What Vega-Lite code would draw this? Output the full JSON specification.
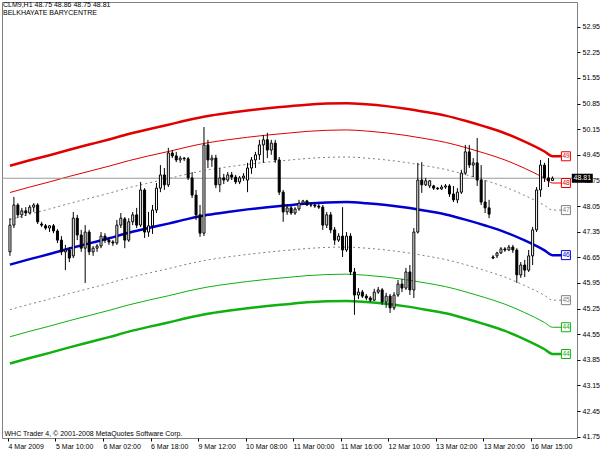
{
  "$schema": "https://vega.github.io/schema/vega-lite/v6.json",
  "width": 575,
  "height": 436,
  "autosize": {"type": "none"},
  "padding": {"left": 2, "top": 2, "right": 28, "bottom": 16},
  "background": "white",
  "config": {
    "view": {"stroke": "#808080", "strokeWidth": 1},
    "font": "Liberation Sans",
    "axis": {"grid": false, "domain": false, "labelFont": "Liberation Sans", "labelFontSize": 7, "labelColor": "black",
      "tickColor": "black", "tickSize": 3, "labelOverlap": false, "labelFlush": false, "labelBound": false,
      "titleFont": "Liberation Sans", "titleFontSize": 7, "titleFontWeight": "normal", "titleColor": "black"}
  },
  "title": {
    "text": ["CLM9,H1  48.75 48.86 48.75 48.81", "BELKHAYATE BARYCENTRE"],
    "anchor": "start", "frame": "group", "orient": "top", "baseline": "top",
    "offset": -14, "dx": 1, "fontSize": 7, "font": "Liberation Sans",
    "fontWeight": "normal", "color": "black", "lineHeight": 8
  },
  "datasets": {
    "bars": [
      {"i":0,"o":46.80,"h":47.72,"l":46.69,"c":47.53},
      {"i":1,"o":47.53,"h":48.30,"l":47.45,"c":48.08},
      {"i":2,"o":48.08,"h":48.13,"l":47.72,"c":47.81},
      {"i":3,"o":47.81,"h":48.00,"l":47.72,"c":47.92},
      {"i":4,"o":47.92,"h":48.02,"l":47.78,"c":47.86},
      {"i":5,"o":47.86,"h":48.08,"l":47.83,"c":48.02},
      {"i":6,"o":48.02,"h":48.13,"l":47.89,"c":48.08},
      {"i":7,"o":48.08,"h":48.13,"l":47.56,"c":47.62},
      {"i":8,"o":47.56,"h":47.62,"l":47.48,"c":47.53},
      {"i":9,"o":47.51,"h":47.56,"l":47.40,"c":47.45},
      {"i":10,"o":47.45,"h":47.53,"l":47.34,"c":47.51},
      {"i":11,"o":47.51,"h":47.56,"l":47.31,"c":47.37},
      {"i":12,"o":47.37,"h":47.42,"l":47.04,"c":47.12},
      {"i":13,"o":47.12,"h":47.23,"l":46.71,"c":46.80},
      {"i":14,"o":46.80,"h":46.99,"l":46.30,"c":46.85},
      {"i":15,"o":46.85,"h":46.93,"l":46.52,"c":46.63},
      {"i":16,"o":46.69,"h":47.89,"l":46.63,"c":47.72},
      {"i":17,"o":47.72,"h":47.81,"l":47.12,"c":47.26},
      {"i":18,"o":47.26,"h":47.40,"l":46.80,"c":46.90},
      {"i":19,"o":46.90,"h":47.53,"l":45.95,"c":47.34},
      {"i":20,"o":47.34,"h":47.40,"l":46.71,"c":46.80},
      {"i":21,"o":46.80,"h":46.96,"l":46.69,"c":46.90},
      {"i":22,"o":46.90,"h":47.01,"l":46.80,"c":46.96},
      {"i":23,"o":46.96,"h":47.34,"l":46.90,"c":47.23},
      {"i":24,"o":47.23,"h":47.31,"l":47.04,"c":47.12},
      {"i":25,"o":47.12,"h":47.18,"l":46.99,"c":47.07},
      {"i":26,"o":47.07,"h":47.12,"l":46.96,"c":47.04},
      {"i":27,"o":47.04,"h":47.67,"l":46.99,"c":47.53},
      {"i":28,"o":47.53,"h":47.86,"l":47.45,"c":47.72},
      {"i":29,"o":47.70,"h":47.75,"l":46.90,"c":47.12},
      {"i":30,"o":47.12,"h":47.72,"l":47.07,"c":47.62},
      {"i":31,"o":47.62,"h":47.89,"l":47.53,"c":47.81},
      {"i":32,"o":47.81,"h":48.00,"l":47.45,"c":47.53},
      {"i":33,"o":47.53,"h":48.71,"l":47.48,"c":48.49},
      {"i":34,"o":48.49,"h":48.54,"l":47.18,"c":47.34},
      {"i":35,"o":47.34,"h":47.89,"l":47.21,"c":47.51},
      {"i":36,"o":47.51,"h":48.08,"l":47.29,"c":47.94},
      {"i":37,"o":47.94,"h":48.68,"l":47.86,"c":48.54},
      {"i":38,"o":48.54,"h":49.17,"l":48.43,"c":48.90},
      {"i":39,"o":48.90,"h":49.09,"l":48.49,"c":48.63},
      {"i":40,"o":48.63,"h":49.64,"l":48.57,"c":49.50},
      {"i":41,"o":49.50,"h":49.58,"l":49.36,"c":49.42},
      {"i":42,"o":49.42,"h":49.53,"l":49.25,"c":49.31},
      {"i":43,"o":49.31,"h":49.42,"l":49.23,"c":49.36},
      {"i":44,"o":49.36,"h":49.39,"l":49.28,"c":49.34},
      {"i":45,"o":49.34,"h":49.39,"l":48.76,"c":48.82},
      {"i":46,"o":48.82,"h":48.98,"l":48.27,"c":48.35},
      {"i":47,"o":48.35,"h":48.49,"l":47.67,"c":47.81},
      {"i":48,"o":47.81,"h":48.08,"l":47.21,"c":47.31},
      {"i":49,"o":47.31,"h":50.21,"l":47.23,"c":49.72},
      {"i":50,"o":49.72,"h":49.86,"l":49.09,"c":49.31},
      {"i":51,"o":49.31,"h":49.45,"l":49.12,"c":49.36},
      {"i":52,"o":49.36,"h":49.45,"l":48.54,"c":48.63},
      {"i":53,"o":48.63,"h":49.09,"l":48.43,"c":48.82},
      {"i":54,"o":48.82,"h":48.93,"l":48.65,"c":48.76},
      {"i":55,"o":48.76,"h":48.98,"l":48.71,"c":48.90},
      {"i":56,"o":48.90,"h":48.98,"l":48.76,"c":48.84},
      {"i":57,"o":48.84,"h":48.90,"l":48.65,"c":48.71},
      {"i":58,"o":48.71,"h":48.87,"l":48.65,"c":48.82},
      {"i":59,"o":48.82,"h":48.95,"l":48.74,"c":48.87},
      {"i":60,"o":48.76,"h":49.23,"l":48.43,"c":49.09},
      {"i":61,"o":49.09,"h":49.39,"l":48.93,"c":49.31},
      {"i":62,"o":49.31,"h":49.53,"l":49.09,"c":49.45},
      {"i":63,"o":49.45,"h":49.86,"l":49.31,"c":49.72},
      {"i":64,"o":49.72,"h":49.99,"l":49.23,"c":49.86},
      {"i":65,"o":49.86,"h":50.05,"l":49.36,"c":49.58},
      {"i":66,"o":49.58,"h":49.86,"l":49.45,"c":49.77},
      {"i":67,"o":49.77,"h":49.86,"l":49.23,"c":49.31},
      {"i":68,"o":49.31,"h":49.39,"l":48.35,"c":48.43},
      {"i":69,"o":48.43,"h":48.49,"l":47.62,"c":47.89},
      {"i":70,"o":47.89,"h":48.08,"l":47.81,"c":48.00},
      {"i":71,"o":48.00,"h":48.05,"l":47.81,"c":47.86},
      {"i":72,"o":47.86,"h":48.02,"l":47.81,"c":47.97},
      {"i":73,"o":47.97,"h":48.22,"l":47.92,"c":48.13},
      {"i":74,"o":48.13,"h":48.22,"l":48.11,"c":48.19},
      {"i":75,"o":48.19,"h":48.22,"l":48.05,"c":48.08},
      {"i":76,"o":48.08,"h":48.13,"l":48.02,"c":48.08},
      {"i":77,"o":48.08,"h":48.13,"l":48.00,"c":48.05},
      {"i":78,"o":48.05,"h":48.11,"l":47.97,"c":48.02},
      {"i":79,"o":48.02,"h":48.08,"l":47.40,"c":47.53},
      {"i":80,"o":47.53,"h":47.89,"l":47.45,"c":47.81},
      {"i":81,"o":47.81,"h":47.89,"l":47.31,"c":47.40},
      {"i":82,"o":47.40,"h":47.48,"l":46.99,"c":47.12},
      {"i":83,"o":47.12,"h":47.31,"l":47.07,"c":47.23},
      {"i":84,"o":47.23,"h":48.02,"l":46.66,"c":46.85},
      {"i":85,"o":46.85,"h":47.34,"l":46.80,"c":47.23},
      {"i":86,"o":47.23,"h":47.31,"l":46.17,"c":46.25},
      {"i":87,"o":46.25,"h":46.36,"l":45.08,"c":45.62},
      {"i":88,"o":45.62,"h":45.81,"l":45.51,"c":45.70},
      {"i":89,"o":45.70,"h":45.76,"l":45.54,"c":45.59},
      {"i":90,"o":45.59,"h":45.65,"l":45.48,"c":45.54},
      {"i":91,"o":45.54,"h":45.59,"l":45.43,"c":45.48},
      {"i":92,"o":45.48,"h":45.79,"l":45.46,"c":45.70},
      {"i":93,"o":45.70,"h":45.84,"l":45.65,"c":45.76},
      {"i":94,"o":45.76,"h":45.81,"l":45.35,"c":45.43},
      {"i":95,"o":45.43,"h":45.68,"l":45.27,"c":45.59},
      {"i":96,"o":45.59,"h":45.65,"l":45.13,"c":45.27},
      {"i":97,"o":45.27,"h":45.70,"l":45.21,"c":45.62},
      {"i":98,"o":45.62,"h":46.03,"l":45.57,"c":45.92},
      {"i":99,"o":45.92,"h":46.06,"l":45.70,"c":45.81},
      {"i":100,"o":45.81,"h":46.36,"l":45.76,"c":46.25},
      {"i":101,"o":46.25,"h":46.44,"l":45.62,"c":45.76},
      {"i":102,"o":45.76,"h":47.45,"l":45.54,"c":47.34},
      {"i":103,"o":47.34,"h":49.23,"l":47.30,"c":48.76},
      {"i":104,"o":48.76,"h":49.25,"l":48.41,"c":48.63},
      {"i":105,"o":48.63,"h":48.82,"l":48.60,"c":48.74},
      {"i":106,"o":48.60,"h":48.76,"l":48.54,"c":48.74},
      {"i":107,"o":48.60,"h":48.63,"l":48.49,"c":48.54},
      {"i":108,"o":48.54,"h":48.57,"l":48.49,"c":48.52},
      {"i":109,"o":48.52,"h":48.63,"l":48.49,"c":48.57},
      {"i":110,"o":48.57,"h":48.65,"l":48.52,"c":48.60},
      {"i":111,"o":48.60,"h":48.65,"l":48.30,"c":48.38},
      {"i":112,"o":48.38,"h":48.60,"l":48.16,"c":48.22},
      {"i":113,"o":48.22,"h":48.54,"l":48.13,"c":48.43},
      {"i":114,"o":48.43,"h":49.04,"l":48.38,"c":48.95},
      {"i":115,"o":48.95,"h":49.72,"l":48.90,"c":49.53},
      {"i":116,"o":49.53,"h":49.72,"l":49.09,"c":49.17},
      {"i":117,"o":49.17,"h":49.36,"l":48.84,"c":49.23},
      {"i":118,"o":49.23,"h":49.91,"l":48.60,"c":48.76},
      {"i":119,"o":48.76,"h":49.17,"l":48.08,"c":48.16},
      {"i":120,"o":48.16,"h":48.76,"l":47.86,"c":48.00},
      {"i":121,"o":48.00,"h":48.22,"l":47.72,"c":47.83},
      {"i":122,"o":46.66,"h":46.71,"l":46.60,"c":46.63},
      {"i":123,"o":46.69,"h":46.80,"l":46.63,"c":46.77},
      {"i":124,"o":46.77,"h":46.93,"l":46.74,"c":46.88},
      {"i":125,"o":46.88,"h":46.93,"l":46.80,"c":46.85},
      {"i":126,"o":46.85,"h":46.99,"l":46.82,"c":46.93},
      {"i":127,"o":46.93,"h":46.99,"l":46.77,"c":46.85},
      {"i":128,"o":46.85,"h":46.90,"l":45.95,"c":46.17},
      {"i":129,"o":46.17,"h":46.52,"l":46.09,"c":46.44},
      {"i":130,"o":46.44,"h":46.58,"l":46.11,"c":46.30},
      {"i":131,"o":46.30,"h":46.85,"l":46.25,"c":46.69},
      {"i":132,"o":46.69,"h":47.48,"l":46.44,"c":47.40},
      {"i":133,"o":47.40,"h":48.57,"l":47.34,"c":48.49},
      {"i":134,"o":48.49,"h":49.31,"l":48.30,"c":49.17},
      {"i":135,"o":49.17,"h":49.23,"l":48.71,"c":48.82},
      {"i":136,"o":48.82,"h":49.36,"l":48.57,"c":48.74},
      {"i":137,"o":48.75,"h":48.86,"l":48.75,"c":48.81}
    ],
    "bands": [
      {"i":0,"c":46.45,"u1":47.68,"u2":48.42,"u3":49.15,"d1":45.22,"d2":44.48,"d3":43.75},
      {"i":5,"c":46.60,"u1":47.83,"u2":48.57,"u3":49.30,"d1":45.37,"d2":44.63,"d3":43.90},
      {"i":10,"c":46.74,"u1":47.97,"u2":48.71,"u3":49.44,"d1":45.51,"d2":44.77,"d3":44.04},
      {"i":15,"c":46.89,"u1":48.12,"u2":48.86,"u3":49.59,"d1":45.66,"d2":44.92,"d3":44.19},
      {"i":20,"c":47.03,"u1":48.26,"u2":49.00,"u3":49.73,"d1":45.80,"d2":45.06,"d3":44.33},
      {"i":25,"c":47.17,"u1":48.40,"u2":49.14,"u3":49.87,"d1":45.94,"d2":45.20,"d3":44.47},
      {"i":30,"c":47.32,"u1":48.55,"u2":49.29,"u3":50.02,"d1":46.09,"d2":45.35,"d3":44.62},
      {"i":35,"c":47.45,"u1":48.68,"u2":49.42,"u3":50.15,"d1":46.22,"d2":45.48,"d3":44.75},
      {"i":40,"c":47.57,"u1":48.80,"u2":49.54,"u3":50.27,"d1":46.34,"d2":45.60,"d3":44.87},
      {"i":45,"c":47.70,"u1":48.93,"u2":49.67,"u3":50.40,"d1":46.47,"d2":45.73,"d3":45.00},
      {"i":50,"c":47.81,"u1":49.04,"u2":49.78,"u3":50.51,"d1":46.58,"d2":45.84,"d3":45.11},
      {"i":55,"c":47.89,"u1":49.12,"u2":49.86,"u3":50.59,"d1":46.66,"d2":45.92,"d3":45.19},
      {"i":60,"c":47.96,"u1":49.19,"u2":49.93,"u3":50.66,"d1":46.73,"d2":45.99,"d3":45.26},
      {"i":65,"c":48.02,"u1":49.25,"u2":49.99,"u3":50.72,"d1":46.79,"d2":46.05,"d3":45.32},
      {"i":70,"c":48.07,"u1":49.30,"u2":50.04,"u3":50.77,"d1":46.84,"d2":46.10,"d3":45.37},
      {"i":75,"c":48.12,"u1":49.35,"u2":50.09,"u3":50.82,"d1":46.89,"d2":46.15,"d3":45.42},
      {"i":80,"c":48.15,"u1":49.38,"u2":50.12,"u3":50.85,"d1":46.92,"d2":46.18,"d3":45.45},
      {"i":85,"c":48.16,"u1":49.39,"u2":50.13,"u3":50.86,"d1":46.93,"d2":46.19,"d3":45.46},
      {"i":90,"c":48.13,"u1":49.36,"u2":50.10,"u3":50.83,"d1":46.90,"d2":46.16,"d3":45.43},
      {"i":95,"c":48.08,"u1":49.31,"u2":50.05,"u3":50.78,"d1":46.85,"d2":46.11,"d3":45.38},
      {"i":100,"c":48.01,"u1":49.24,"u2":49.98,"u3":50.71,"d1":46.78,"d2":46.04,"d3":45.31},
      {"i":105,"c":47.92,"u1":49.15,"u2":49.89,"u3":50.62,"d1":46.69,"d2":45.95,"d3":45.22},
      {"i":110,"c":47.82,"u1":49.05,"u2":49.79,"u3":50.52,"d1":46.59,"d2":45.85,"d3":45.12},
      {"i":115,"c":47.68,"u1":48.91,"u2":49.65,"u3":50.38,"d1":46.45,"d2":45.71,"d3":44.98},
      {"i":120,"c":47.52,"u1":48.75,"u2":49.49,"u3":50.22,"d1":46.29,"d2":45.55,"d3":44.82},
      {"i":125,"c":47.34,"u1":48.57,"u2":49.31,"u3":50.04,"d1":46.11,"d2":45.37,"d3":44.64},
      {"i":130,"c":47.11,"u1":48.34,"u2":49.08,"u3":49.81,"d1":45.88,"d2":45.14,"d3":44.41},
      {"i":135,"c":46.84,"u1":48.07,"u2":48.81,"u3":49.54,"d1":45.61,"d2":44.87,"d3":44.14},
      {"i":137,"c":46.71,"u1":47.94,"u2":48.68,"u3":49.41,"d1":45.48,"d2":44.74,"d3":44.01},
      {"i":139.3,"c":46.71,"u1":47.94,"u2":48.68,"u3":49.41,"d1":45.48,"d2":44.74,"d3":44.01}
    ],
    "tags": [
      {"price":49.41,"label":"49.","line":"red"},
      {"price":48.68,"label":"48.","line":"red"},
      {"price":47.94,"label":"47.","line":"gray"},
      {"price":46.71,"label":"46.","line":"blue"},
      {"price":45.48,"label":"45.","line":"gray"},
      {"price":44.74,"label":"44.","line":"green"},
      {"price":44.01,"label":"44.","line":"green"}
    ],
    "last": [{"price":48.81,"label":"48.81"}]
  },
  "layer": [
    {
      "encoding": {
        "x": {"field": "i", "type": "quantitative", "scale": {"domain": [-0.744, 141.94], "nice": false, "zero": false},
          "axis": {"values": [-0.5,11.5,23.5,35.5,47.5,59.5,71.5,83.5,95.5,107.5,119.5,131.5],
            "labelExpr": "['4 Mar 2009','5 Mar 10:00','6 Mar 02:00','6 Mar 18:00','9 Mar 12:00','10 Mar 08:00','11 Mar 00:00','11 Mar 16:00','12 Mar 10:00','13 Mar 02:00','13 Mar 20:00','16 Mar 15:00'][round((datum.value+0.5)/12)]",
            "labelAlign": "left", "labelBaseline": "top", "labelPadding": 1, "labelDx": 1, "labelOverlap": false, "labelFlush": false, "labelBound": false,
            "title": "WHC Trader 4, © 2001-2008 MetaQuotes Software Corp.", "titleX": 2, "titleY": -2, "titleAlign": "left",
            "titleBaseline": "bottom"}},
        "y": {"field": "c", "type": "quantitative", "scale": {"domain": [41.715, 53.624], "nice": false, "zero": false},
          "axis": {"orient": "right", "values": [41.75,42.45,43.15,43.85,44.55,45.25,45.95,46.65,47.35,48.05,48.75,49.45,50.15,50.85,51.55,52.25,52.95],
            "format": ".2f", "labelPadding": 2, "title": null, "labelOverlap": false, "labelSeparation": 0, "labelBound": false, "labelFlush": false}}
      },
      "layer": [
        {"data": {"name": "bands"}, "mark": {"type": "line", "color": "#e00000", "strokeWidth": 2.5, "interpolate": "monotone"},
          "encoding": {"y": {"field": "u3", "type": "quantitative"}}},
        {"data": {"name": "bands"}, "mark": {"type": "line", "color": "#e00000", "strokeWidth": 1, "interpolate": "monotone"},
          "encoding": {"y": {"field": "u2", "type": "quantitative"}}},
        {"data": {"name": "bands"}, "mark": {"type": "line", "color": "#808080", "strokeWidth": 1, "strokeDash": [2, 3], "interpolate": "monotone"},
          "encoding": {"y": {"field": "u1", "type": "quantitative"}}},
        {"data": {"name": "bands"}, "mark": {"type": "line", "color": "#0000d0", "strokeWidth": 2.5, "interpolate": "monotone"},
          "encoding": {}},
        {"data": {"name": "bands"}, "mark": {"type": "line", "color": "#808080", "strokeWidth": 1, "strokeDash": [2, 3], "interpolate": "monotone"},
          "encoding": {"y": {"field": "d1", "type": "quantitative"}}},
        {"data": {"name": "bands"}, "mark": {"type": "line", "color": "#10b010", "strokeWidth": 1, "interpolate": "monotone"},
          "encoding": {"y": {"field": "d2", "type": "quantitative"}}},
        {"data": {"name": "bands"}, "mark": {"type": "line", "color": "#10b010", "strokeWidth": 2.5, "interpolate": "monotone"},
          "encoding": {"y": {"field": "d3", "type": "quantitative"}}},
        {"data": {"name": "last"}, "mark": {"type": "rule", "color": "#9a9a9a", "strokeWidth": 1},
          "encoding": {"x": {"value": 0}, "x2": {"value": 575}, "y": {"field": "price", "type": "quantitative"}}},
        {"data": {"name": "bars"}, "mark": {"type": "rule", "color": "black", "strokeWidth": 1},
          "encoding": {"y": {"field": "l", "type": "quantitative"}, "y2": {"field": "h"}}},
        {"data": {"name": "bars"}, "mark": {"type": "bar", "size": 2, "stroke": "black", "strokeWidth": 1},
          "encoding": {
            "y": {"field": "o", "type": "quantitative"},
            "y2": {"field": "c"},
            "fill": {"condition": {"test": "datum.c >= datum.o", "value": "white"}, "value": "black"}
          }}
      ]
    },
    {
      "data": {"name": "tags"},
      "encoding": {
        "x": {"datum": 140.4, "type": "quantitative", "scale": {"domain": [-0.744, 141.94], "nice": false, "zero": false},
          "axis": {"values": [-0.5,11.5,23.5,35.5,47.5,59.5,71.5,83.5,95.5,107.5,119.5,131.5],
            "labelExpr": "['4 Mar 2009','5 Mar 10:00','6 Mar 02:00','6 Mar 18:00','9 Mar 12:00','10 Mar 08:00','11 Mar 00:00','11 Mar 16:00','12 Mar 10:00','13 Mar 02:00','13 Mar 20:00','16 Mar 15:00'][round((datum.value+0.5)/12)]",
            "labelAlign": "left", "labelBaseline": "top", "labelPadding": 1, "labelDx": 1, "labelOverlap": false, "labelFlush": false, "labelBound": false,
            "title": "WHC Trader 4, © 2001-2008 MetaQuotes Software Corp.", "titleX": 2, "titleY": -2, "titleAlign": "left",
            "titleBaseline": "bottom"}},
        "y": {"field": "price", "type": "quantitative", "scale": {"domain": [41.715, 53.624], "nice": false, "zero": false},
          "axis": {"orient": "right", "values": [41.75,42.45,43.15,43.85,44.55,45.25,45.95,46.65,47.35,48.05,48.75,49.45,50.15,50.85,51.55,52.25,52.95],
            "format": ".2f", "labelPadding": 2, "title": null, "labelOverlap": false, "labelSeparation": 0, "labelBound": false, "labelFlush": false}}
      },
      "layer": [
        {"mark": {"type": "point", "shape": "square", "size": 81, "filled": true, "fill": "white", "strokeWidth": 1, "opacity": 1},
          "encoding": {
            "stroke": {"field": "line", "type": "nominal", "scale": {"domain": ["red", "gray", "blue", "green"], "range": ["#e00000", "#808080", "#0000d0", "#10b010"]}, "legend": null}
          }},
        {"mark": {"type": "text", "fontSize": 6.5, "font": "Liberation Sans", "align": "left", "dx": -3.5, "baseline": "middle"},
          "encoding": {
            "text": {"field": "label"},
            "color": {"field": "line", "type": "nominal", "scale": {"domain": ["red", "gray", "blue", "green"], "range": ["#e00000", "#808080", "#0000d0", "#10b010"]}, "legend": null}
          }}
      ]
    },
    {
      "data": {"name": "last"},
      "encoding": {
        "x": {"datum": 144.54, "type": "quantitative", "scale": {"domain": [-0.744, 141.94], "nice": false, "zero": false},
          "axis": {"values": [-0.5,11.5,23.5,35.5,47.5,59.5,71.5,83.5,95.5,107.5,119.5,131.5],
            "labelExpr": "['4 Mar 2009','5 Mar 10:00','6 Mar 02:00','6 Mar 18:00','9 Mar 12:00','10 Mar 08:00','11 Mar 00:00','11 Mar 16:00','12 Mar 10:00','13 Mar 02:00','13 Mar 20:00','16 Mar 15:00'][round((datum.value+0.5)/12)]",
            "labelAlign": "left", "labelBaseline": "top", "labelPadding": 1, "labelDx": 1, "labelOverlap": false, "labelFlush": false, "labelBound": false,
            "title": "WHC Trader 4, © 2001-2008 MetaQuotes Software Corp.", "titleX": 2, "titleY": -2, "titleAlign": "left",
            "titleBaseline": "bottom"}},
        "y": {"field": "price", "type": "quantitative", "scale": {"domain": [41.715, 53.624], "nice": false, "zero": false},
          "axis": {"orient": "right", "values": [41.75,42.45,43.15,43.85,44.55,45.25,45.95,46.65,47.35,48.05,48.75,49.45,50.15,50.85,51.55,52.25,52.95],
            "format": ".2f", "labelPadding": 2, "title": null, "labelOverlap": false, "labelSeparation": 0, "labelBound": false, "labelFlush": false}}
      },
      "layer": [
        {"mark": {"type": "point", "shape": "M-1,-0.43H1V0.43H-1Z", "size": 441, "filled": true, "color": "black", "opacity": 1}},
        {"mark": {"type": "text", "fontSize": 7, "font": "Liberation Sans", "color": "white", "align": "center", "baseline": "middle"},
          "encoding": {"text": {"field": "label"}}}
      ]
    }
  ]
}
